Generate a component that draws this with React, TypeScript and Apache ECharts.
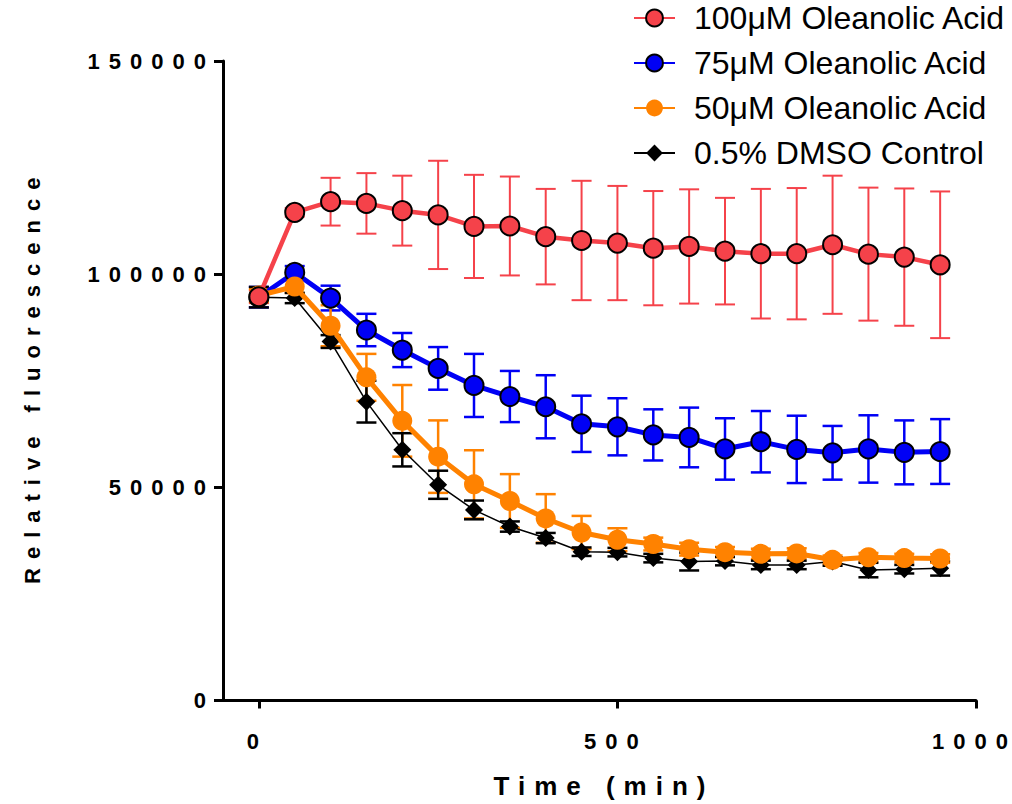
import React, { useEffect, useRef } from "react";
import * as echarts from "echarts";

// ---- data ----
const times = [0, 50, 100, 150, 200, 250, 300, 350, 400, 450, 500, 550, 600, 650, 700, 750, 800, 850, 900, 950];

const seriesNames = ["100\u03bcM Oleanolic Acid", "75\u03bcM Oleanolic Acid", "50\u03bcM Oleanolic Acid", "0.5% DMSO Control"];

const red = [94700, 114500, 117000, 116600, 114900, 113900, 111200, 111300, 108800, 107900, 107300, 106100, 106500, 105400, 104800, 104800, 106900, 104700, 104000, 102200];
const redErr = [1500, 1000, 5600, 7100, 8200, 12700, 12100, 11600, 11200, 14000, 13400, 13400, 13400, 12500, 15200, 15400, 16200, 15600, 16100, 17200];

const blue = [94600, 100400, 94400, 86900, 82200, 77900, 73900, 71300, 68900, 64900, 64200, 62300, 61700, 59000, 60700, 58900, 58100, 59000, 58200, 58400];
const blueErr = [2400, 1500, 2900, 3800, 4000, 5000, 7400, 6000, 7400, 6600, 6700, 6000, 7000, 7200, 7200, 7900, 6300, 7900, 7500, 7600];

const orange = [95000, 97100, 87900, 75800, 65600, 57200, 50700, 46800, 42700, 39400, 37700, 36700, 35500, 34800, 34400, 34500, 33000, 33600, 33400, 33300];
const orangeErr = [1500, 1500, 4800, 5500, 8400, 8500, 8000, 6300, 5700, 3900, 2700, 1500, 1500, 1200, 1200, 1200, 1000, 1000, 1000, 1000];

const black = [94600, 94400, 84200, 70100, 58800, 50600, 44700, 40800, 38100, 34900, 34800, 33400, 32600, 32700, 31800, 31800, 32600, 30600, 30800, 31000];
const blackErr = [2400, 1200, 1500, 4900, 3900, 3300, 2200, 1200, 1200, 1000, 1000, 1000, 2100, 1000, 1000, 1000, 1000, 1700, 1000, 1700];

const xTicks = [0, 500, 1000];
const yTicks = [0, 50000, 100000, 150000];
const xName = "Time (min)";
const yName = "Relative fluorescence";

const RED = "#F5424A";
const BLUE = "#0000F5";
const ORANGE = "#FF8200";
const BLACK = "#000000";
const FONT = "'Liberation Sans', Arial, Helvetica, sans-serif";

function errorSeries(id: string, color: string, vals: number[], errs: number[], width: number, z: number) {
  return {
    type: "custom",
    id,
    name: id,
    z,
    silent: true,
    data: times.map((t, i) => [t, vals[i], errs[i]]),
    encode: { x: 0, y: 1 },
    renderItem: (_p: any, api: any) => {
      const x = api.value(0);
      const y = api.value(1);
      const e = api.value(2);
      const top = api.coord([x, y + e]);
      const bot = api.coord([x, y - e]);
      const hw = 10;
      const style = { stroke: color, lineWidth: width };
      return {
        type: "group",
        children: [
          { type: "line", shape: { x1: top[0], y1: top[1], x2: bot[0], y2: bot[1] }, style },
          { type: "line", shape: { x1: top[0] - hw, y1: top[1], x2: top[0] + hw, y2: top[1] }, style },
          { type: "line", shape: { x1: bot[0] - hw, y1: bot[1], x2: bot[0] + hw, y2: bot[1] }, style },
        ],
      };
    },
  };
}

function lineSeries(name: string, vals: number[], color: string, width: number, symbol: string, size: number, border: number, z: number) {
  return {
    type: "line",
    name,
    z,
    data: times.map((t, i) => [t, vals[i]]),
    symbol,
    symbolSize: size,
    showSymbol: true,
    lineStyle: { color, width },
    itemStyle: { color, borderColor: "#000", borderWidth: border, opacity: 1 },
    emphasis: { disabled: true },
  };
}

// spread glyphs apart (SVG dx), keeping the text content intact
function spread(t: Element, gap: number, first: number) {
  const n = (t.textContent || "").length;
  const arr: string[] = [String(first)];
  for (let i = 1; i < n; i++) arr.push(String(gap));
  t.setAttribute("dx", arr.join(" "));
}

export default function App() {
  const ref = useRef<HTMLDivElement>(null);
  useEffect(() => {
    document.body.style.margin = "0";
    const chart = echarts.init(ref.current!, null, { renderer: "svg" });
    const option: any = {
      animation: false,
      textStyle: { fontFamily: FONT },
      grid: { left: 223, right: 36, top: 61, bottom: 103.5, outerBoundsMode: "none" },
      legend: {
        orient: "vertical",
        left: 628,
        top: -3,
        itemWidth: 41,
        itemHeight: 21,
        itemGap: 13,
        selectedMode: false,
        data: seriesNames.map((n) => ({ name: n })),
        textStyle: { fontSize: 32, color: "#000", fontFamily: FONT, lineHeight: 31, padding: [0, 0, 0, 14] },
      },
      xAxis: {
        type: "value",
        min: -50,
        max: 1000,
        splitLine: { show: false },
        axisLine: { show: true, onZero: false, lineStyle: { color: "#000", width: 3 } },
        axisTick: { show: true, customValues: xTicks, length: 8, lineStyle: { color: "#000", width: 3 } },
        axisLabel: {
          customValues: xTicks,
          formatter: (v: number) => String(v),
          fontSize: 22,
          fontWeight: "bold",
          color: "#000",
          margin: 30,
          fontFamily: FONT,
        },
        name: xName,
        nameLocation: "middle",
        nameGap: 72,
        nameTextStyle: { fontSize: 26, fontWeight: "bold", color: "#000", fontFamily: FONT },
      },
      yAxis: {
        type: "value",
        min: 0,
        max: 150000,
        interval: 50000,
        splitLine: { show: false },
        axisLine: { show: true, onZero: false, lineStyle: { color: "#000", width: 3 } },
        axisTick: { show: true, length: 9, lineStyle: { color: "#000", width: 3 } },
        axisLabel: {
          formatter: (v: number) => String(v),
          fontSize: 22,
          fontWeight: "bold",
          color: "#000",
          margin: 17,
          fontFamily: FONT,
        },
        name: yName,
        nameLocation: "middle",
        nameGap: 180,
        nameTextStyle: { fontSize: 22, fontWeight: "bold", color: "#000", fontFamily: FONT },
      },
      series: [
        errorSeries("err-red", RED, red, redErr, 2, 1),
        errorSeries("err-blue", BLUE, blue, blueErr, 2.5, 1),
        errorSeries("err-orange", ORANGE, orange, orangeErr, 2.5, 1),
        errorSeries("err-black", BLACK, black, blackErr, 2.5, 1),
        lineSeries(seriesNames[3], black, BLACK, 1.5, "diamond", 18, 0, 2),
        lineSeries(seriesNames[1], blue, BLUE, 5, "circle", 19, 2, 3),
        lineSeries(seriesNames[2], orange, ORANGE, 5, "circle", 20, 0, 4),
        lineSeries(seriesNames[0], red, RED, 4.5, "circle", 19, 2, 5),
      ],
    };
    chart.setOption(option);
    const tickStrings = new Set([...xTicks, ...yTicks].map((v) => String(v)));
    const apply = () => {
      const root = ref.current;
      if (!root) return;
      root.querySelectorAll("text").forEach((t) => {
        const s = (t.textContent || "").trim();
        if (tickStrings.has(s)) {
          const anchor = t.getAttribute("text-anchor");
          if (anchor === "middle") spread(t, 9, -6);
          else spread(t, 9, 0);
        } else if (s === xName) spread(t, 9, 0);
        else if (s === yName) spread(t, 9, 0);
      });
    };
    apply();
    chart.on("finished", apply);
    return () => chart.dispose();
  }, []);
  return <div ref={ref} style={{ width: 1012, height: 804 }} />;
}
